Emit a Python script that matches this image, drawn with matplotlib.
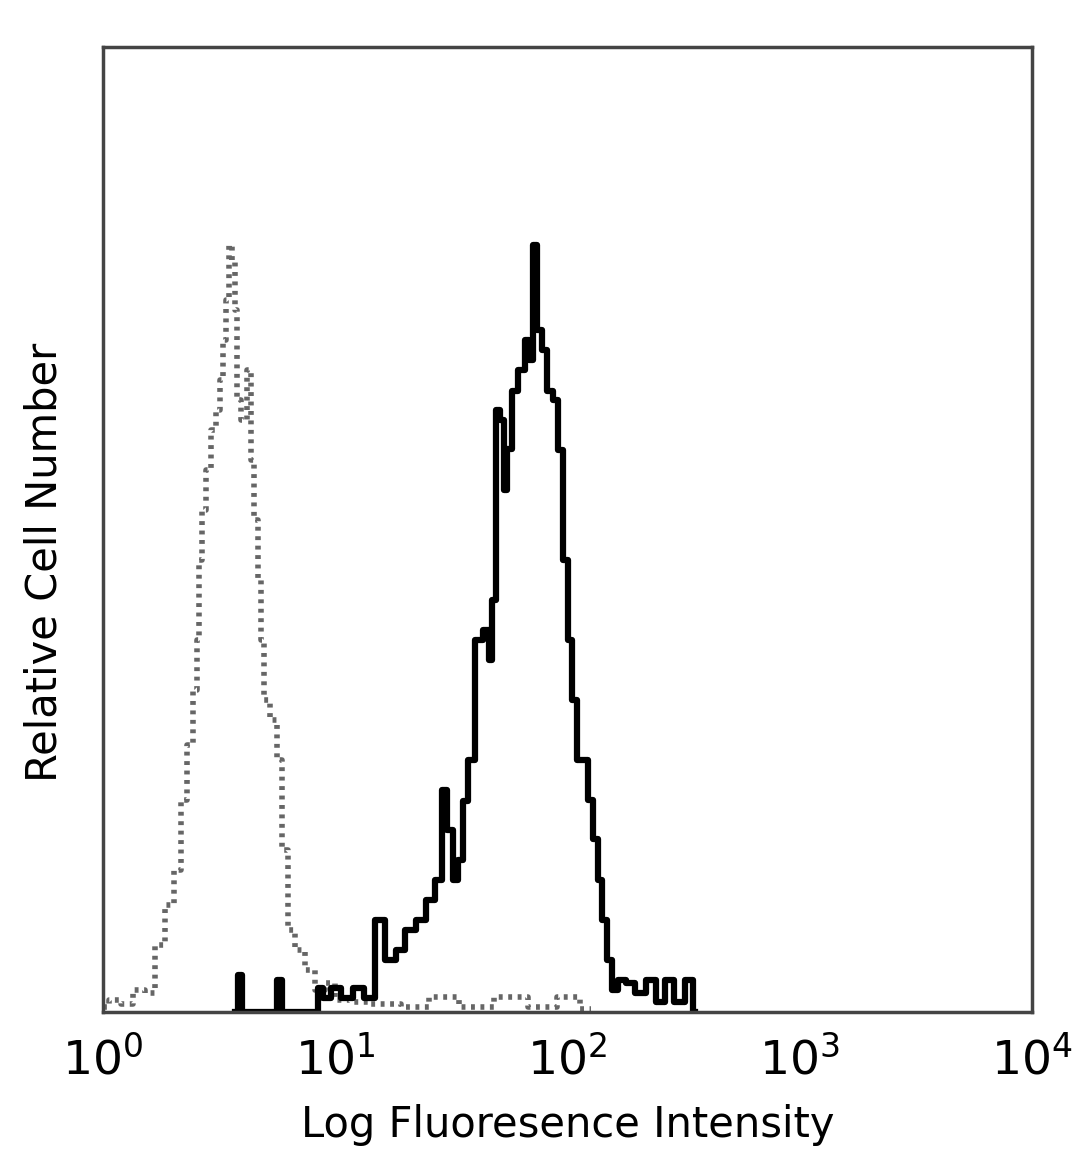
import matplotlib.pyplot as plt
import numpy as np

plt.rcParams['font.family'] = ['DejaVu Sans']

# isotype control (dotted), log10 intensity vs relative count
iso_log = [0.00, 0.05, 0.10, 0.16, 0.20, 0.245, 0.288, 0.323, 0.344, 0.375, 0.396, 0.409,
           0.418, 0.431, 0.452, 0.474, 0.495, 0.512, 0.525, 0.538, 0.547, 0.564, 0.573,
           0.581, 0.603, 0.633, 0.642, 0.654, 0.676, 0.685, 0.698, 0.741, 0.753, 0.784,
           0.805, 0.848, 0.891, 0.934, 0.98, 1.02, 1.10, 1.20, 1.35, 1.45, 1.60, 1.75,
           1.90, 2.00, 2.10]
iso_cnt = [0.5, 1.2, 0.8, 2.3, 2.0, 6.9, 11.1, 14.7, 22.0, 27.7, 33.4, 38.5,
           46.8, 52.0, 56.2, 60.3, 62.4, 65.5, 69.6, 73.8, 79.5, 77.9, 72.7,
           63.4, 61.3, 66.5, 57.2, 51.0, 44.8, 38.5, 32.3, 30.3, 26.1, 16.8,
           8.5, 6.4, 4.4, 2.3, 3.0, 1.2, 1.0, 0.8, 0.5, 1.6, 0.5, 1.6,
           0.5, 1.6, 0.3]

# stained sample (solid)
pos_log = [0.57, 0.59, 0.61, 0.74, 0.76, 0.78, 0.92, 0.93, 0.96, 1.00, 1.05, 1.10, 1.15,
           1.19, 1.24, 1.28, 1.32, 1.37, 1.41, 1.45, 1.47, 1.49, 1.52, 1.54, 1.56, 1.58,
           1.62, 1.65, 1.67, 1.68, 1.70, 1.72, 1.73, 1.75, 1.77, 1.80, 1.83, 1.84, 1.86,
           1.88, 1.90, 1.92, 1.95, 1.97, 1.99, 2.01, 2.03, 2.05, 2.08, 2.10, 2.12, 2.14,
           2.16, 2.18, 2.20, 2.23, 2.27, 2.31, 2.36, 2.40, 2.44, 2.48, 2.53, 2.55]
pos_cnt = [0, 3.8, 0, 0, 3.3, 0, 0, 2.5, 1.5, 2.5, 1.5, 2.5, 1.5,
           9.5, 5.4, 6.4, 8.5, 9.5, 11.6, 13.7, 23.0, 18.9, 13.7, 15.8, 21.9, 26.1,
           38.5, 39.6, 36.5, 42.7, 62.4, 61.3, 54.1, 58.3, 64.4, 66.5, 69.6, 67.6, 79.5,
           70.7, 68.6, 64.4, 63.4, 58.2, 46.8, 38.5, 32.3, 26.1, 26.1, 22.0, 17.9, 13.7,
           9.5, 5.4, 2.3, 3.3, 3.0, 2.0, 3.3, 1.0, 3.3, 1.0, 3.3, 0]

fig = plt.figure(figsize=(10.8, 11.69), dpi=100)
ax = fig.add_axes([0.0954, 0.1343, 0.8602, 0.8255])

ax.plot(10 ** np.array(iso_log), iso_cnt, color='0.4', lw=4,
        linestyle=(0, (0.7, 1.0)), drawstyle='steps-mid')
ax.plot(10 ** np.array(pos_log), pos_cnt, color='black', lw=4.5, drawstyle='steps-mid')

ax.set_xscale('log')
ax.set_xlim(1, 1e4)
ax.set_ylim(0, 100)
ax.set_xticks([1, 10, 100, 1000, 10000])
ax.set_xticks([], minor=True)
ax.set_yticks([])
ax.tick_params(length=0, labelsize=34, pad=18)
for s in ax.spines.values():
    s.set_color('#444444')
    s.set_linewidth(2.5)

ax.set_xlabel('Log Fluoresence Intensity', fontsize=30, labelpad=14)
ax.set_ylabel('Relative Cell Number', fontsize=30)
ax.yaxis.set_label_coords(-0.04, 0.466)

fig.savefig('out.png', dpi=100)
